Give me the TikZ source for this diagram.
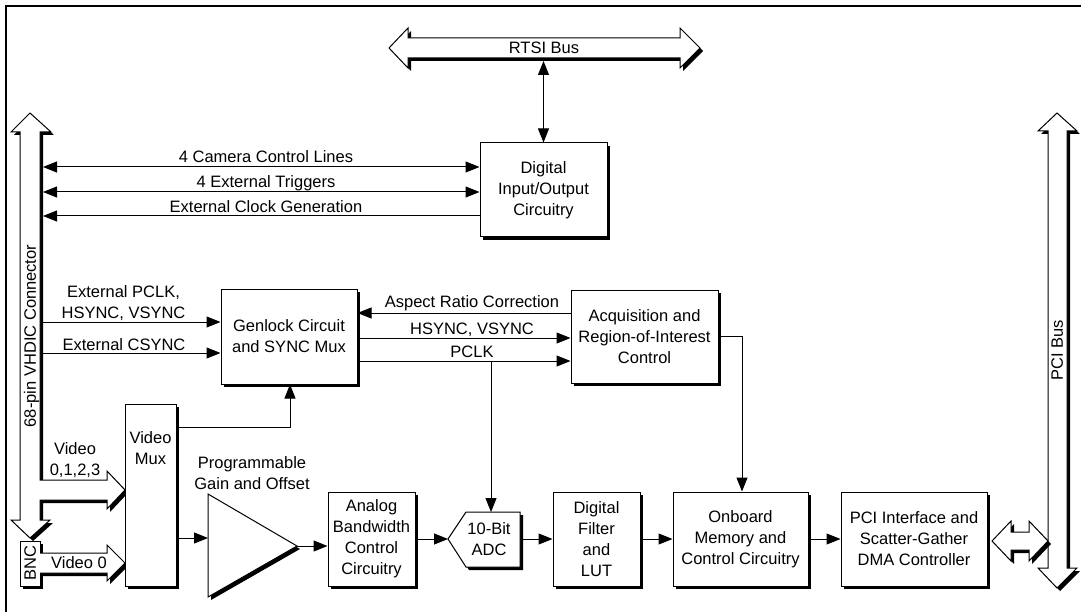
\documentclass[tikz,border=0pt]{standalone}
\usepackage{fontspec}
\setmainfont{Liberation Sans}
\usetikzlibrary{arrows.meta,shadows}
\newcommand\fs{\fontsize{16.5}{21}\selectfont}
\tikzset{
 shad/.style={drop shadow={shadow xshift=3pt, shadow yshift=-3pt, opacity=1, fill=black}},
 box/.style={draw, fill=white, line width=1pt, shad, align=center, inner sep=0pt, font=\fs},
 bus/.style={draw, fill=white, line width=1pt, line join=miter, shad},
 arr/.style={-{Triangle[length=14pt,width=11pt]}, line width=1pt},
 biarr/.style={{Triangle[length=14pt,width=11pt]}-{Triangle[length=14pt,width=11pt]}, line width=1pt},
 lbl/.style={inner sep=0pt, font=\fs, text height=11.8pt, text depth=0pt},
 mlbl/.style={inner sep=0pt, font=\fs, align=center},
}
\begin{document}
\begin{tikzpicture}[x=1pt,y=-1pt]
\clip (0,0) rectangle (1081,612);
\useasboundingbox (0,0) rectangle (1081,612);
\fill[white] (0,0) rectangle (1081,612);
\draw[line width=2.2pt] (6,6) rectangle (1095,625);

% buses
\path[bus] (389,48) -- (408,28) -- (408,38) -- (680,38) -- (680,28) -- (700,48)
  -- (680,68) -- (680,58) -- (408,58) -- (408,68) -- cycle;
\node[lbl] (rtsit) at (544,48) {RTSI Bus};

\path[bus] (1057,113) -- (1077,131) -- (1067,131) -- (1067,568) -- (1077,568) -- (1057,588)
  -- (1038,568) -- (1048,568) -- (1048,131) -- (1038,131) -- cycle;
\node[lbl, rotate=90] (pcibt) at (1057,350) {PCI Bus};

\path[bus] (30,113) -- (51,132) -- (40,132) -- (40,480) -- (107,480) -- (107,471) -- (125,490)
  -- (107,509) -- (107,500) -- (40,500) -- (40,520) -- (50,520) -- (30,538) -- (11,520)
  -- (20,520) -- (20,132) -- (11,132) -- cycle;
\node[lbl, rotate=90] (vhdict) at (30,336) {68-pin VHDIC Connector};

% BNC
\node[box, minimum width=20pt, minimum height=45pt] (bnc) at (30,563.5) {};
\node[lbl, rotate=90] (bnct) at (30,563) {BNC};
\path[bus] (40,553) -- (107,553) -- (107,545) -- (125,563) -- (107,581) -- (107,573) -- (40,573);
\node[lbl] (v0) at (79,563) {Video 0};

% boxes
\node[box, minimum width=127pt, minimum height=94pt] (dio) at (543.5,190) {Digital\\Input/Output\\Circuitry};
\node[box, minimum width=136pt, minimum height=95pt] (gen) at (289,336.5) {Genlock Circuit\\and SYNC Mux};
\node[box, minimum width=147pt, minimum height=93pt] (acq) at (644.5,336.5) {Acquisition and\\Region-of-Interest\\Control};
\node[box, minimum width=51pt, minimum height=182pt] (mux) at (150.5,495) {};
\node[mlbl] (muxt) at (150.5,448) {Video\\Mux};
\node[box, minimum width=87pt, minimum height=94pt] (ana) at (371.5,539) {Analog\\Bandwidth\\Control\\Circuitry};
\node[box, minimum width=87pt, minimum height=94pt] (flt) at (596.5,539) {Digital\\Filter\\and\\LUT};
\node[box, minimum width=135pt, minimum height=94pt] (onb) at (740.5,539) {Onboard\\Memory and\\Control Circuitry};
\node[box, minimum width=146pt, minimum height=94pt] (pci) at (914,539) {PCI Interface and\\Scatter-Gather\\DMA Controller};

% ADC
\path[bus] (448,539) -- (466,512) -- (520,512) -- (520,567) -- (466,567) -- cycle;
\node[mlbl] (adc) at (489,539.5) {10-Bit\\ADC};
\coordinate (adcW) at (448,539);
\coordinate (adcE) at (520,539);
\coordinate (adcN) at (491,512);

% amplifier
\path[bus] (208,494) -- (297,546) -- (208,597) -- cycle;
\coordinate (ampin) at (208,538);
\coordinate (ampout) at (297,546);
\node[mlbl] (ampt) at (252,473.5) {Programmable\\Gain and Offset};

% PCI small double arrow
\path[bus] (992,541) -- (1011,521) -- (1011,532) -- (1029,532) -- (1029,521) -- (1048,541)
  -- (1029,561) -- (1029,550) -- (1011,550) -- (1011,561) -- cycle;

% connectors
\coordinate (rtsiS) at (543.5,61);
\draw[biarr] (rtsiS) -- (dio.north);

\coordinate (c1) at (43,167);
\coordinate (c2) at (43,192);
\coordinate (c3) at (43,216);
\draw[biarr] (c1) -- (c1 -| dio.west);
\draw[biarr] (c2) -- (c2 -| dio.west);
\draw[arr] (c3 -| dio.west) -- (c3);
\node[lbl] (l1) at (266,157) {4 Camera Control Lines};
\node[lbl] (l2) at (266,182) {4 External Triggers};
\node[lbl] (l3) at (266,206.5) {External Clock Generation};

\coordinate (c4) at (40,322);
\coordinate (c5) at (40,353);
\draw[arr] (c4) -- (c4 -| gen.west);
\draw[arr] (c5) -- (c5 -| gen.west);
\node[mlbl] (l4) at (123.5,303) {External PCLK,\\HSYNC, VSYNC};
\node[lbl] (l5) at (124,344.5) {External CSYNC};

\coordinate (ar) at (0,313);
\coordinate (hs) at (0,338);
\coordinate (pc) at (0,361);
\draw[arr] (ar -| acq.west) -- (ar -| gen.east);
\draw[arr] (hs -| gen.east) -- (hs -| acq.west);
\draw[arr] (pc -| gen.east) -- (pc -| acq.west);
\node[lbl] (l6) at (472,302) {Aspect Ratio Correction};
\node[lbl] (l7) at (472,328.5) {HSYNC, VSYNC};
\node[lbl] (l8) at (472,352) {PCLK};
\coordinate (pcb) at (491,361);
\draw[arr] (pcb) -- (adcN);

\coordinate (aq) at (742,336);
\draw[arr] (aq -| acq.east) -- (aq) -- (aq |- onb.north);

\coordinate (mg) at (290,427);
\draw[arr] (mg -| mux.east) -- (mg) -- (mg |- gen.south);

\draw[arr] (ampin -| mux.east) -- (ampin);
\draw[arr] (ampout) -- (ampout -| ana.west);
\draw[arr] (adcW -| ana.east) -- (adcW);
\draw[arr] (adcE) -- (adcE -| flt.west);
\draw[arr] (flt.east) -- (onb.west);
\draw[arr] (onb.east) -- (pci.west);

\node[mlbl] (vl) at (75,460.5) {Video\\0,1,2,3};
\end{tikzpicture}
\end{document}
